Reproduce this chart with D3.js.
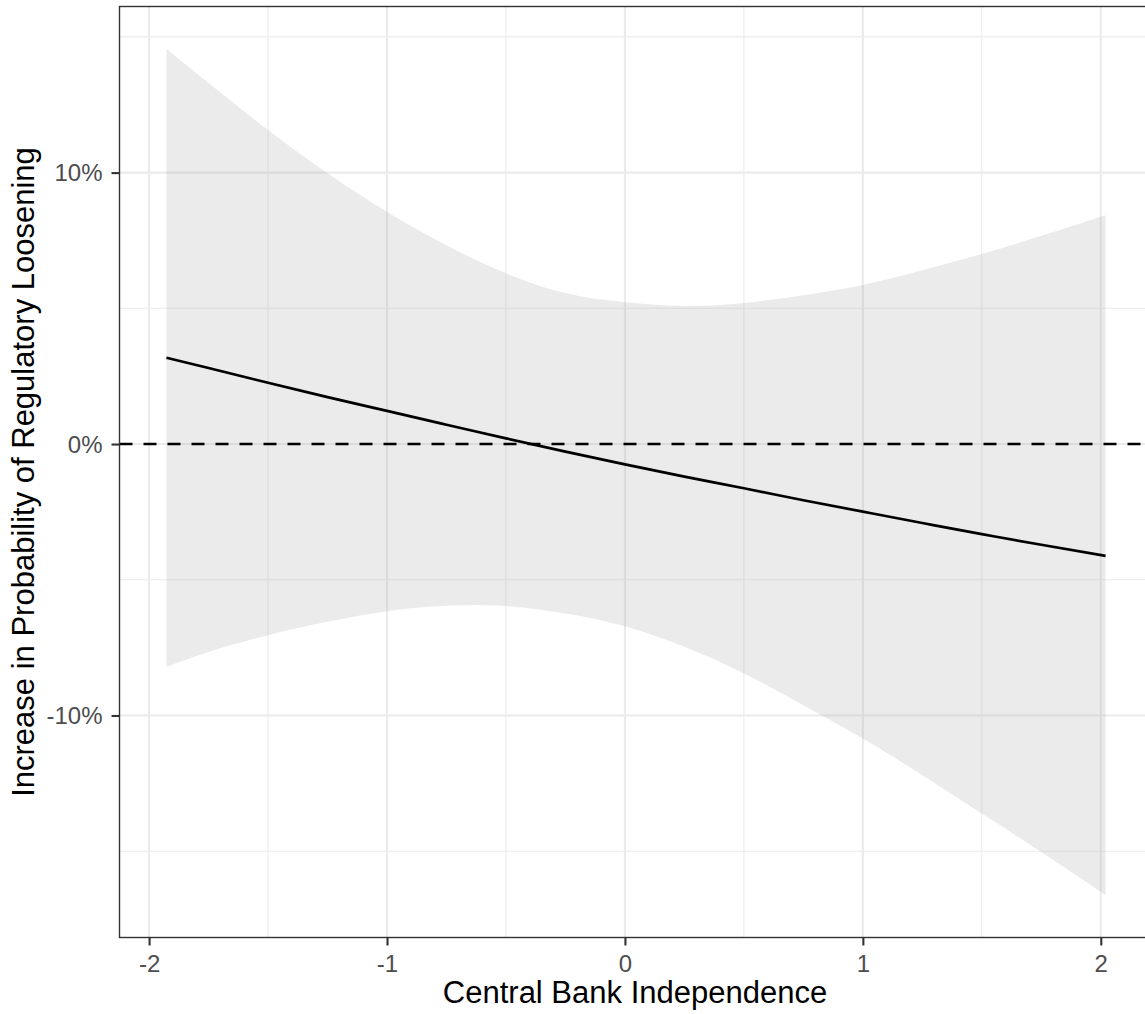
<!DOCTYPE html>
<html>
<head>
<meta charset="utf-8">
<script src="https://cdn.jsdelivr.net/npm/d3@7"></script>
<style>
  body { margin: 0; background: #fff; }
  text { font-family: "Liberation Sans", Arial, sans-serif; }
</style>
</head>
<body>
<div id="plot-container"></div>
<script>
// Marginal effect of CBI on probability of regulatory loosening (in %)
const cbi   = [-1.927, -1.75, -1.5, -1.25, -1, -0.75, -0.5, -0.25, 0, 0.25, 0.5, 0.75, 1, 1.25, 1.5, 1.75, 2.02];
const fit   = [3.18, 2.80, 2.26, 1.73, 1.22, 0.71, 0.21, -0.28, -0.75, -1.20, -1.63, -2.07, -2.49, -2.91, -3.32, -3.71, -4.12];
const upper = [14.56, 13.30, 11.57, 9.98, 8.56, 7.32, 6.29, 5.56, 5.22, 5.09, 5.20, 5.48, 5.86, 6.40, 7.00, 7.67, 8.43];
const lower = [-8.21, -7.66, -7.04, -6.55, -6.16, -5.96, -5.97, -6.24, -6.71, -7.47, -8.45, -9.62, -10.85, -12.20, -13.61, -15.03, -16.62];

const xTicks = [-2, -1, 0, 1, 2];
const xMinor = [-1.5, -0.5, 0.5, 1.5];
const yTicks = [-10, 0, 10];
const yMinor = [-15, -5, 5, 15];

const data = cbi.map((x, i) => ({ x: x, fit: fit[i], lo: lower[i], hi: upper[i] }));

const W = 1145, H = 1014;
const pLeft = 119.5, pRight = 1152.5, pTop = 6.5, pBottom = 937.5;

// ggplot-style 5% expansion
function expand(ext) {
  const d = (ext[1] - ext[0]) * 0.05;
  return [ext[0] - d, ext[1] + d];
}

const x = d3.scaleLinear()
  .domain(expand(d3.extent(cbi)))
  .range([pLeft, pRight]);

const y = d3.scaleLinear()
  .domain(expand([d3.min(lower), d3.max(upper)]))
  .range([pBottom, pTop]);

const svg = d3.select("#plot-container")
  .append("svg")
  .attr("width", W)
  .attr("height", H);

// grid
const grid = svg.append("g");
grid.selectAll(".xminor").data(xMinor).enter().append("line")
  .attr("x1", d => x(d)).attr("x2", d => x(d))
  .attr("y1", pTop).attr("y2", pBottom)
  .attr("stroke", "#ebebeb").attr("stroke-width", 1.1);
grid.selectAll(".yminor").data(yMinor).enter().append("line")
  .attr("x1", pLeft).attr("x2", pRight)
  .attr("y1", d => y(d)).attr("y2", d => y(d))
  .attr("stroke", "#ebebeb").attr("stroke-width", 1.1);
grid.selectAll(".xmajor").data(xTicks).enter().append("line")
  .attr("x1", d => x(d)).attr("x2", d => x(d))
  .attr("y1", pTop).attr("y2", pBottom)
  .attr("stroke", "#ebebeb").attr("stroke-width", 2.1);
grid.selectAll(".ymajor").data(yTicks).enter().append("line")
  .attr("x1", pLeft).attr("x2", pRight)
  .attr("y1", d => y(d)).attr("y2", d => y(d))
  .attr("stroke", "#ebebeb").attr("stroke-width", 2.1);

// confidence ribbon
const area = d3.area()
  .x(d => x(d.x))
  .y0(d => y(d.lo))
  .y1(d => y(d.hi))
  .curve(d3.curveNatural);

svg.append("path")
  .datum(data)
  .attr("d", area)
  .attr("fill", "#999999")
  .attr("fill-opacity", 0.2);

// zero reference line
svg.append("line")
  .attr("x1", pLeft).attr("x2", pRight)
  .attr("y1", y(0)).attr("y2", y(0))
  .attr("stroke", "#000")
  .attr("stroke-width", 2.4)
  .attr("stroke-dasharray", "13,11");

// fitted line
const line = d3.line()
  .x(d => x(d.x))
  .y(d => y(d.fit))
  .curve(d3.curveNatural);

svg.append("path")
  .datum(data)
  .attr("d", line)
  .attr("fill", "none")
  .attr("stroke", "#000")
  .attr("stroke-width", 2.7);

// panel border
svg.append("rect")
  .attr("x", pLeft).attr("y", pTop)
  .attr("width", pRight - pLeft).attr("height", pBottom - pTop)
  .attr("fill", "none")
  .attr("stroke", "#333")
  .attr("stroke-width", 1.4);

// axes
const xAxis = svg.append("g")
  .attr("transform", "translate(0," + pBottom + ")")
  .call(d3.axisBottom(x).tickValues(xTicks).tickSize(8).tickPadding(9).tickFormat(d => String(d)));

const yAxis = svg.append("g")
  .attr("transform", "translate(" + pLeft + ",0)")
  .call(d3.axisLeft(y).tickValues(yTicks).tickSize(8).tickPadding(9).tickFormat(d => d + "%"));

[xAxis, yAxis].forEach(a => {
  a.select(".domain").remove();
  a.selectAll(".tick line").attr("stroke", "#333").attr("stroke-width", 2.1);
  a.selectAll(".tick text")
    .attr("fill", "#4d4d4d")
    .style("font-size", "24px")
    .style("font-family", "'Liberation Sans', Arial, sans-serif");
});
xAxis.selectAll(".tick text").attr("dy", "0.71em");
yAxis.selectAll(".tick text").attr("dy", "0.34em");

// axis titles
svg.append("text")
  .attr("x", (pLeft + pRight) / 2 - 1)
  .attr("y", 1003)
  .attr("text-anchor", "middle")
  .attr("fill", "#000")
  .style("font-size", "31px")
  .text("Central Bank Independence");

svg.append("text")
  .attr("transform", "translate(34," + ((pTop + pBottom) / 2) + ") rotate(-90)")
  .attr("text-anchor", "middle")
  .attr("fill", "#000")
  .style("font-size", "31px")
  .text("Increase in Probability of Regulatory Loosening");
</script>
</body>
</html>
